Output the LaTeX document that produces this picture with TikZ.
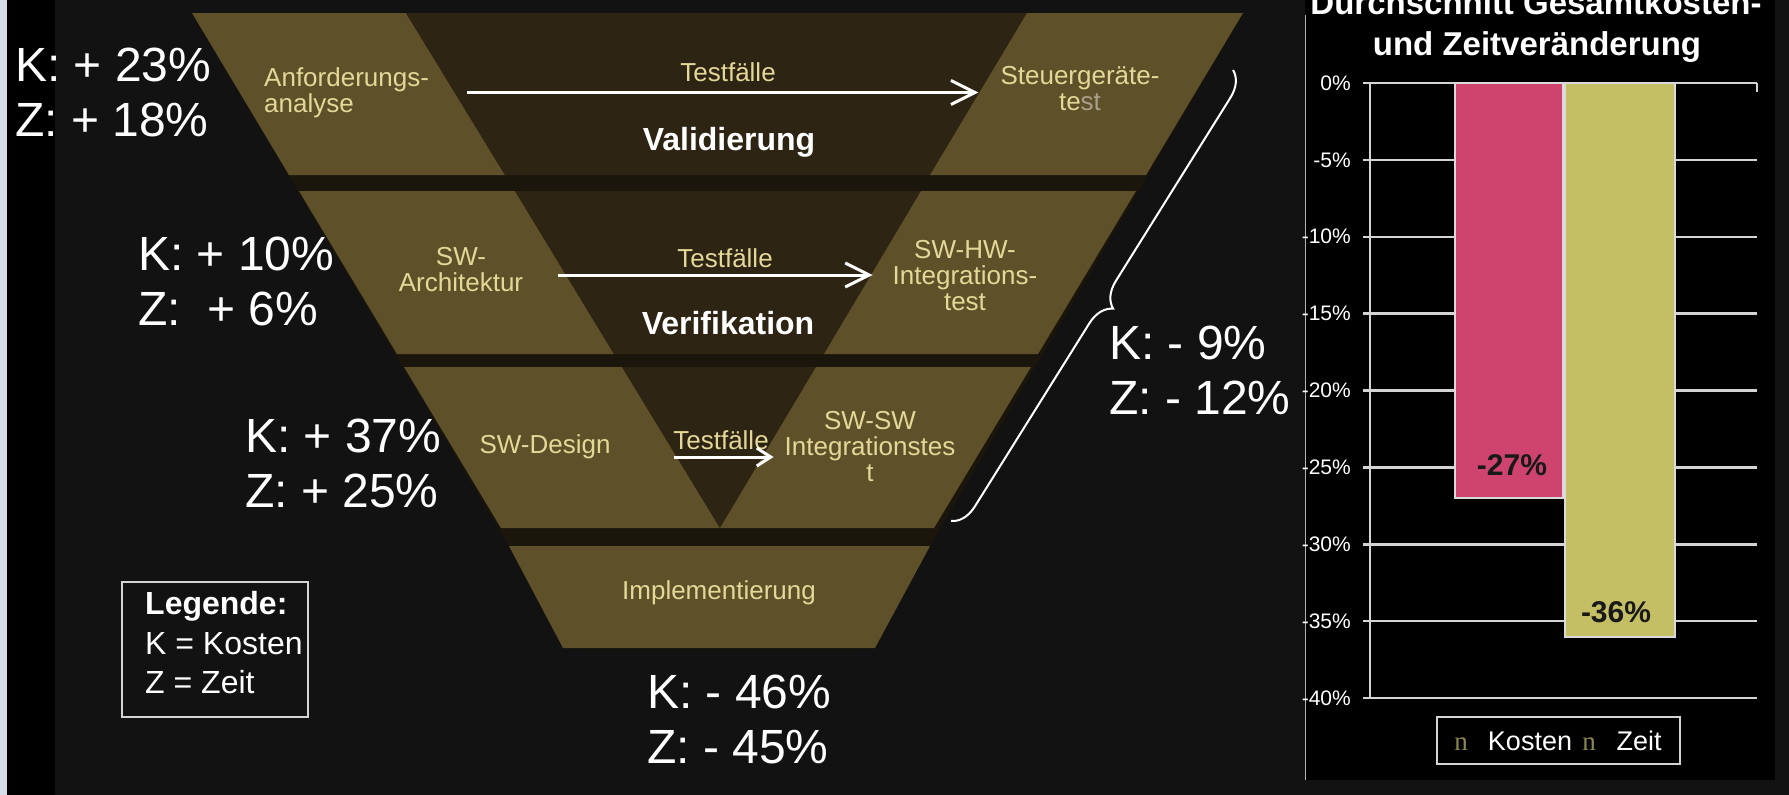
\documentclass[tikz,border=0pt]{standalone}
\usepackage{fontspec}
\setmainfont{Liberation Sans}
\newfontfamily\markfont{Liberation Serif}
\usepackage{tikz}
\usetikzlibrary{arrows.meta}
\usetikzlibrary{decorations.pathreplacing}
\usetikzlibrary{fit}
\definecolor{panelgray}{HTML}{121212}
\definecolor{sidegray}{HTML}{D5DDE6}
\definecolor{vtan}{RGB}{94,80,40}
\definecolor{vdark}{RGB}{45,36,20}
\definecolor{vgap}{RGB}{26,22,12}
\definecolor{khaki}{RGB}{228,216,152}
\definecolor{fadedst}{RGB}{168,160,138}
\definecolor{kostencol}{RGB}{206,68,110}
\definecolor{zeitcol}{RGB}{196,190,100}
\definecolor{olivemark}{RGB}{140,136,82}
\definecolor{gridcol}{HTML}{D4D4D4}

\begin{document}
\begin{tikzpicture}[x=1pt,y=-1pt]
	\tikzstyle{deltatext}=[text=white,font=\fontsize{48}{55}\selectfont,align=left,inner sep=0pt]
	\tikzstyle{phase}=[text=khaki,font=\fontsize{26}{26}\selectfont,align=center,inner sep=0pt]
	\tikzstyle{phasename}=[text=white,font=\bfseries\fontsize{32}{36}\selectfont,inner sep=0pt]
	\tikzstyle{testarrow}=[white,line width=3pt,-{Straight Barb[length=24pt,width=24pt,line width=3pt]}]
	\tikzstyle{smallarrow}=[white,line width=3pt,-{Straight Barb[length=14pt,width=18pt,line width=3pt]}]
	\tikzstyle{bracestyle}=[white,line width=2pt,decorate,decoration={brace,amplitude=25pt}]
	\tikzstyle{legtext}=[text=white,font=\fontsize{32}{39.5}\selectfont,align=left,inner sep=0pt]
	\tikzstyle{frame}=[draw=gridcol,line width=2pt,inner sep=0pt]
	\tikzstyle{gridline}=[gridcol,line width=2.5pt]
	\tikzstyle{ylab}=[anchor=east,text=white,font=\fontsize{21}{24}\selectfont,inner sep=0pt]
	\tikzstyle{charttitle}=[anchor=base,text=white,font=\bfseries\fontsize{33}{40}\selectfont,inner sep=0pt]
	\tikzstyle{barval}=[text=black!90,font=\bfseries\fontsize{30}{36}\selectfont,inner sep=0pt]
	\tikzstyle{chartkey}=[anchor=base,text=white,font=\fontsize{27}{32}\selectfont,inner sep=0pt]
	\tikzstyle{keymark}=[anchor=base,text=olivemark,font=\markfont\fontsize{27}{32}\selectfont,inner sep=0pt]
	
	\useasboundingbox (0,0) rectangle (1789,795);
	\clip (0,0) rectangle (1789,795);
	
	\fill[sidegray] (0,0) rectangle (7,795);
	\fill[black] (7,0) rectangle (1789,795);
	\fill[panelgray,rounded corners=12pt] (55,-20) rectangle (1810,805);
	\fill[black] (1305,0) rectangle (1775,780);
	\draw[gray!60,line width=1pt] (1305,15) -- (1305,780);
	
	% V-Modell
	\fill[vgap] (192,13) -- (1243,13) -- (930,546) -- (875,648) -- (563,648) -- (509,546) -- cycle;
	\fill[vtan] (192,13) -- (406,13) -- (505,175) -- (289,175) -- cycle;
	\fill[vdark] (406,13) -- (1027,13) -- (930,175) -- (505,175) -- cycle;
	\fill[vtan] (1027,13) -- (1243,13) -- (1146,175) -- (930,175) -- cycle;
	\fill[vtan] (299,191) -- (515,191) -- (614,354) -- (397,354) -- cycle;
	\fill[vdark] (515,191) -- (921,191) -- (824,354) -- (614,354) -- cycle;
	\fill[vtan] (921,191) -- (1136,191) -- (1038,354) -- (824,354) -- cycle;
	\fill[vtan] (404,367) -- (622,367) -- (720,528) -- (501,528) -- cycle;
	\fill[vdark] (622,367) -- (816,367) -- (720,528) -- cycle;
	\fill[vtan] (816,367) -- (1031,367) -- (934,528) -- (720,528) -- cycle;
	\fill[vtan] (509,546) -- (930,546) -- (875,648) -- (563,648) -- cycle;
	
	\node[phase,anchor=west,align=left] (req) at (264,92.5) {Anforderungs-\\analyse};
	\node[phase] (ecu) at (1080,88.5) {Steuergeräte-\\te{\color{fadedst}st}};
	\node[phase] (arch) at (461,270) {SW-\\Architektur};
	\node[phase] (swhw) at (965,276) {SW-HW-\\Integrations-\\test};
	\node[phase] (design) at (545,447) {SW-Design};
	\node[phase] (swsw) at (870,447) {SW-SW\\Integrationstes\\t};
	\node[phase] (impl) at (719,593) {Implementierung};
	
	\node[phase] (tc1) at (728,72) {Testfälle};
	\node[phase] (tc2) at (725,258) {Testfälle};
	\node[phase] (tc3) at (721,440) {Testfälle};
	\node[phasename] (valid) at (729,142) {Validierung};
	\node[phasename] (verif) at (728,323) {Verifikation};
	
	\draw[testarrow] ([xshift=38]req.east) -- ([xshift=-22]req.east -| ecu.west);
	\draw[testarrow] ([xshift=35,yshift=-5]arch.east) -- ([xshift=-20,yshift=-5]arch.east -| swhw.west);
	\draw[smallarrow] ([xshift=63,yshift=-10]design.east) -- ([xshift=-11,yshift=-10]swsw.west);
	
	\node[deltatext,anchor=west] (kz1) at (15,92.5) {K: + 23\%\\Z: + 18\%};
	\node[deltatext,anchor=west] (kz2) at (138,281.5) {K: + 10\%\\Z:\ \ + 6\%};
	\node[deltatext,anchor=west] (kz3) at (245,463.5) {K: + 37\%\\Z: + 25\%};
	\node[deltatext,anchor=west] (kz4) at (1109,370) {K: - 9\%\\Z: - 12\%};
	\node[deltatext,anchor=west] (kz5) at (647,719.5) {K: - 46\%\\Z: - 45\%};
	
	\coordinate (bracetop) at (1233,70);
	\coordinate (bracebot) at (951,521);
	\draw[bracestyle] (bracetop) -- (bracebot);
	
	\node[legtext,anchor=west] (legend) at (145,643) {\textbf{Legende:}\\K = Kosten\\Z = Zeit};
	\node[frame,fit={(122,582) (308,717)}] (legbox) {};
	
	% Diagramm
	\node[charttitle] (title1) at (1536,14) {Durchschnitt Gesamtkosten-};
	\node[charttitle] (title2) at (1537,55) {und Zeitveränderung};
	\foreach \p [count=\i] in {0,-5,...,-40}{
		\pgfmathsetmacro{\gy}{83-15.375*\p}
		\draw[gridline] (1363,\gy) -- (1757,\gy);
		\node[ylab] (ylab\i) at (1351,\gy) {\p\%};
	}
	\filldraw[fill=kostencol,draw=white!85!black,line width=1.5pt] (1455,83) rectangle (1563,498);
	\filldraw[fill=zeitcol,draw=white!85!black,line width=1.5pt] (1565,83) rectangle (1675,637);
	\draw[gridline] (1370,83) -- (1370,698);
	\draw[gridline] (1757,83) -- (1757,92);
	\node[barval] (kval) at (1512,465) {-27\%};
	\node[barval] (zval) at (1616,612) {-36\%};
	
	\node[keymark] (kmark) at (1461,750) {n};
	\node[chartkey] (kkey) at (1530,750) {Kosten};
	\node[keymark] (zmark) at (1589,750) {n};
	\node[chartkey] (zkey) at (1639,750) {Zeit};
	\node[frame,fit={(1437,717) (1680,764)}] (keybox) {};
\end{tikzpicture}
\end{document}
